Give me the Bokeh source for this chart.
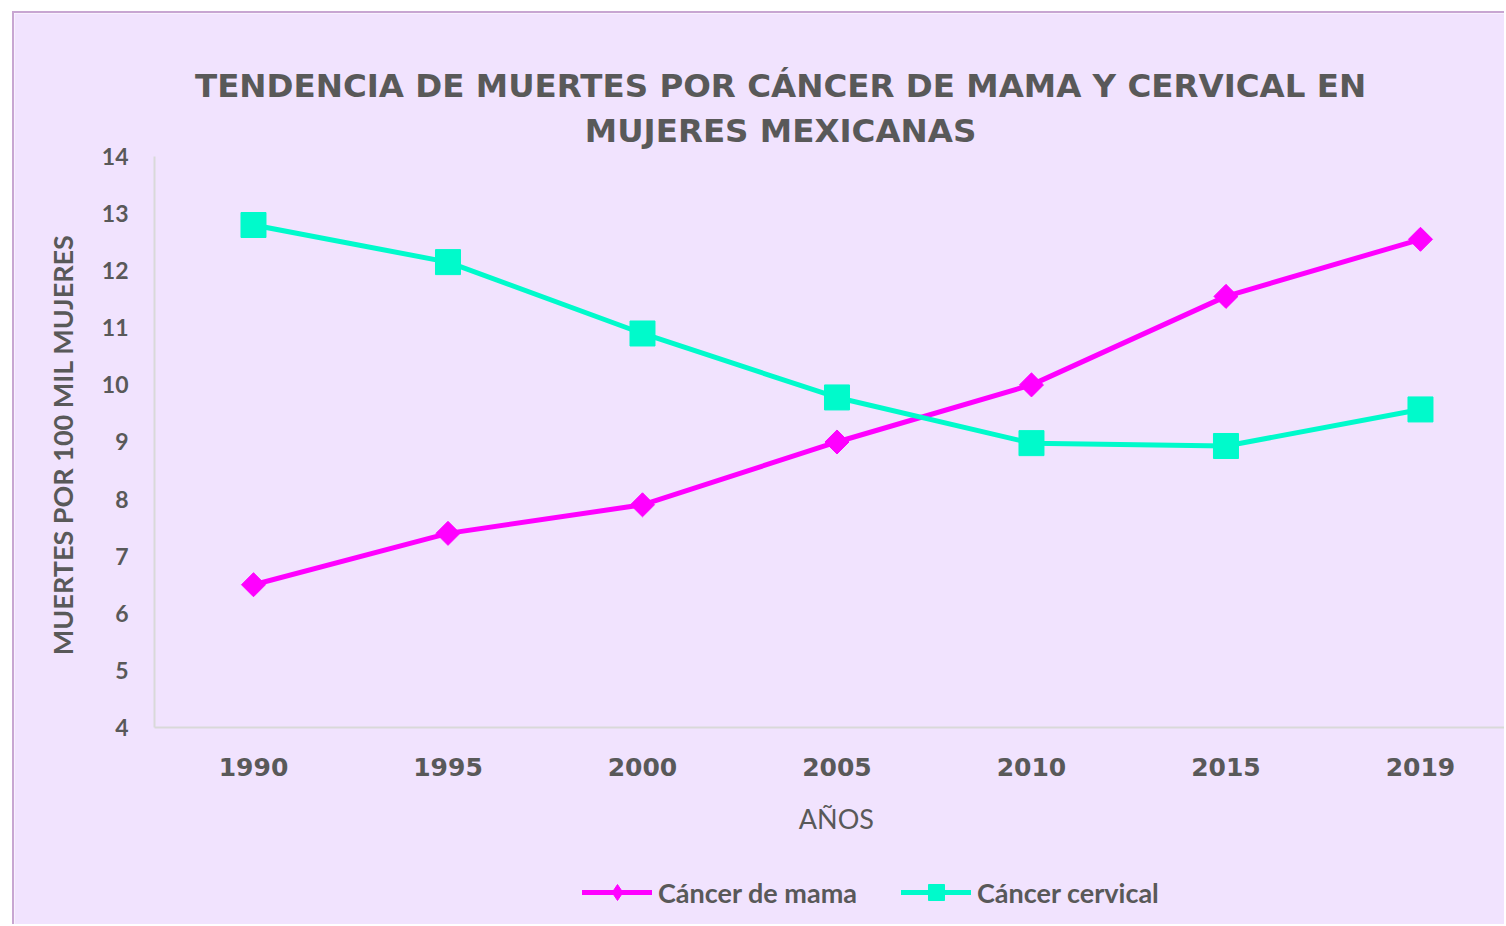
import math
from bokeh.plotting import figure
from bokeh.models import Range1d, FixedTicker, Label, Legend, LegendItem
from bokeh.embed import file_html
from bokeh.resources import INLINE

# ---- data ----
years = ["1990", "1995", "2000", "2005", "2010", "2015", "2019"]
cancer_mama = [6.5, 7.4, 7.9, 9.0, 10.0, 11.55, 12.55]
cancer_cervical = [12.8, 12.15, 10.9, 9.78, 8.98, 8.93, 9.57]
y_ticks = [4, 5, 6, 7, 8, 9, 10, 11, 12, 13, 14]
title_lines = ["TENDENCIA DE MUERTES POR CÁNCER DE MAMA Y CERVICAL EN",
               "MUJERES MEXICANAS"]
series_names = ["Cáncer de mama", "Cáncer cervical"]
y_label = "MUERTES POR  100 MIL MUJERES"
x_label = "AÑOS"

xs = list(range(len(years)))

BG = "#F1E3FE"
TXT = "#595959"
AXIS = "#D9D9D9"
MAGENTA = "#FF00FF"
TURQ = "#00FACB"

X0, X1 = -0.509, 6.432          # extent of the plotting area (categories)
XL = X0 - 140 / 194.5            # left margin area kept inside the frame

p = figure(frame_width=1490, frame_height=911, output_backend="svg",
           toolbar_location=None,
           x_range=Range1d(XL, X1), y_range=Range1d(0.550, 16.504),
           min_border_left=0, min_border_right=0,
           min_border_top=0, min_border_bottom=0)
p.margin = (11, 0, 0, 12)
p.styles = {"border-left": "2px solid #C8A6D2", "border-top": "2px solid #C8A6D2"}

p.background_fill_color = BG
p.border_fill_color = BG
p.outline_line_color = None
p.grid.visible = False

# axes
p.xaxis.ticker = FixedTicker(ticks=xs)
p.xaxis.major_label_overrides = {i: y for i, y in enumerate(years)}
p.xaxis.fixed_location = 4
p.xaxis.bounds = (X0, X1)
p.yaxis.ticker = FixedTicker(ticks=y_ticks)
p.yaxis.fixed_location = X0
p.yaxis.bounds = (4, 14)
for ax in (p.xaxis, p.yaxis):
    ax.axis_line_color = AXIS
    ax.axis_line_width = 2
    ax.major_tick_line_color = None
    ax.minor_tick_line_color = None
    ax.major_tick_out = 0
    ax.major_tick_in = 0
    ax.major_label_text_color = TXT
    ax.major_label_text_font_style = "bold"

p.xaxis.major_label_text_font = "DejaVu Sans"
p.xaxis.major_label_text_font_size = "25px"
p.xaxis.major_label_standoff = 31

p.yaxis.major_label_text_font = "Lato"
p.yaxis.major_label_text_font_size = "23px"
p.yaxis.major_label_standoff = 26

# series
l1 = p.line(xs, cancer_mama, line_color=MAGENTA, line_width=5,
            line_join="round", line_cap="round")
# diamond marker (used for the legend swatch), covered by the wider rotated square
d1 = p.scatter(xs, cancer_mama, marker="diamond", size=20,
               fill_color=MAGENTA, line_color=MAGENTA)
p.scatter(xs, cancer_mama, marker="square", angle=math.pi / 4, size=17,
          fill_color=MAGENTA, line_color=MAGENTA)
l2 = p.line(xs, cancer_cervical, line_color=TURQ, line_width=5,
            line_join="round", line_cap="round")
s2 = p.scatter(xs, cancer_cervical, marker="square", size=25,
               fill_color=TURQ, line_color=TURQ)

# title
for txt, yy in zip(title_lines, [15.226, 14.438]):
    p.add_layout(Label(x=2.710, y=yy, text=txt, text_align="center",
                       text_baseline="middle", text_font="DejaVu Sans",
                       text_font_style="bold", text_font_size="32.5px",
                       text_color=TXT))

# axis titles
p.add_layout(Label(x=X0 - 92 / 194.5, y=9.009, text=y_label, angle=math.pi / 2,
                   text_align="center", text_baseline="middle",
                   text_font="Lato", text_font_style="bold",
                   text_font_size="27px", text_color=TXT))
p.add_layout(Label(x=2.997, y=2.406, text=x_label,
                   text_align="center", text_baseline="middle",
                   text_font="Lato", text_font_style="normal",
                   text_font_size="27px", text_color=TXT))

legend = Legend(items=[LegendItem(label=series_names[0], renderers=[l1, d1]),
                       LegendItem(label=series_names[1], renderers=[l2, s2])],
                orientation="horizontal", location=(568, 12),
                glyph_width=70, glyph_height=40, label_height=40,
                label_standoff=6, spacing=44,
                padding=0, margin=0, border_line_color=None,
                background_fill_alpha=0,
                label_text_font="Lato", label_text_font_style="bold",
                label_text_font_size="27px", label_text_color=TXT)
p.add_layout(legend)

open("out.html", "w").write(file_html(p, INLINE))
